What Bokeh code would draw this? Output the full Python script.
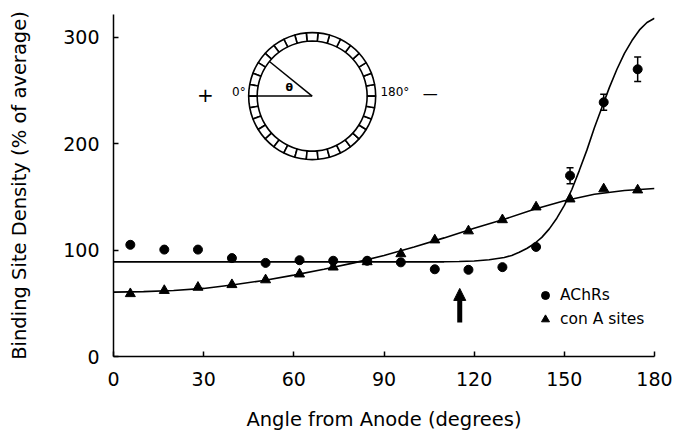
import math
from bokeh.plotting import figure
from bokeh.models import (ColumnDataSource, Whisker, TeeHead, Arrow, NormalHead,
                          Label, Legend, LegendItem, Range1d)
from bokeh.embed import file_html
from bokeh.resources import INLINE

# ---------------- data ----------------
angle_bins = [5.6, 16.9, 28.1, 39.4, 50.6, 61.9, 73.1, 84.4,
              95.6, 106.9, 118.1, 129.4, 140.6, 151.9, 163.1, 174.4]
achr_density = [105, 100.5, 100.5, 92.5, 88, 90.5, 90, 90,
                88.5, 82, 81.5, 84, 103, 170, 239, 270]
achr_error = [0, 0, 0, 0, 0, 0, 0, 0, 0, 0, 0, 0, 0, 7.5, 7.5, 11.5]
cona_density = [59, 62, 65, 67.5, 72, 77.5, 84, 89,
                96.5, 109.5, 118, 128.5, 140.5, 148, 157.5, 156.5]

achr_fit_angle = [0, 20, 40, 60, 80, 100, 110, 115, 120, 125, 130, 132.5,
                  135, 137.5, 140, 142.5, 145, 147.5, 150, 152.5, 155, 157.5,
                  160, 162.5, 165, 167.5, 170, 172.5, 175, 177.5, 180]
achr_fit_density = [89, 89, 89, 89, 89, 89, 89, 89.3, 89.8, 91, 93, 95,
                    98, 101.5, 106, 112, 120, 130, 142, 157, 175, 194,
                    215, 234, 253, 270, 285, 297, 307, 314, 318]
cona_fit_angle = [0, 10, 20, 30, 40, 50, 60, 70, 80, 90, 100, 110, 120,
                  130, 140, 150, 160, 170, 180]
cona_fit_density = [60.5, 61, 62, 64, 67.5, 71.5, 76.5, 82, 88, 95, 103,
                    111.5, 120.5, 129, 138.5, 146.5, 152.5, 156, 158]

x_ticks = [0, 30, 60, 90, 120, 150, 180]
y_ticks = [0, 100, 200, 300]

FONT = "DejaVu Sans"

p = figure(width=674, height=435,
           x_range=Range1d(0, 180), y_range=Range1d(0, 321.5),
           output_backend="svg", toolbar_location=None,
           min_border_left=113, min_border_right=20,
           min_border_top=14, min_border_bottom=79)
p.outline_line_color = None
p.grid.visible = False
p.background_fill_color = "white"

for ax in (p.xaxis[0], p.yaxis[0]):
    ax.axis_line_width = 1.5
    ax.axis_line_color = "black"
    ax.major_tick_in = 5
    ax.major_tick_out = 0
    ax.major_tick_line_width = 1.5
    ax.major_tick_line_color = "black"
    ax.minor_tick_line_color = None
    ax.major_label_text_font = FONT
    ax.major_label_text_font_size = "19px"
    ax.major_label_text_color = "black"
    ax.axis_label_text_font = FONT
    ax.axis_label_text_font_size = "19.5px"
    ax.axis_label_text_font_style = "normal"
    ax.axis_label_text_color = "black"

p.xaxis.ticker = x_ticks
p.yaxis.ticker = y_ticks
p.xaxis.axis_label = "Angle from Anode (degrees)"
p.yaxis.axis_label = "Binding Site Density (% of average)"
p.xaxis.major_label_standoff = 15
p.yaxis.major_label_standoff = 14
p.xaxis.axis_label_standoff = 19
p.yaxis.axis_label_standoff = 29

# fitted curves
p.line(achr_fit_angle, achr_fit_density, line_color="black", line_width=1.6)
p.line(cona_fit_angle, cona_fit_density, line_color="black", line_width=1.6)

# error bars
err_x = [a for a, e in zip(angle_bins, achr_error) if e > 0]
err_up = [d + e for d, e in zip(achr_density, achr_error) if e > 0]
err_lo = [d - e for d, e in zip(achr_density, achr_error) if e > 0]
err_src = ColumnDataSource(dict(x=err_x, upper=err_up, lower=err_lo))
p.add_layout(Whisker(source=err_src, base="x", upper="upper", lower="lower",
                     dimension="height", line_width=1.5, line_color="black",
                     upper_head=TeeHead(size=7, line_width=1.5),
                     lower_head=TeeHead(size=7, line_width=1.5)))

r_achr = p.scatter(angle_bins, achr_density, marker="circle", size=9,
                   fill_color="black", line_color="black")
r_cona = p.scatter(angle_bins, cona_density, marker="triangle", size=10,
                   fill_color="black", line_color="black")

legend = Legend(items=[LegendItem(label="AChRs", renderers=[r_achr]),
                       LegendItem(label="con A sites", renderers=[r_cona])],
                location=(422, 26))
legend.label_text_font = FONT
legend.label_text_font_size = "15.5px"
legend.label_text_color = "black"
legend.glyph_width = 20
legend.glyph_height = 22
legend.label_height = 22
legend.spacing = 2
legend.padding = 0
legend.margin = 0
legend.label_standoff = 5
legend.border_line_color = None
legend.background_fill_alpha = 0
p.add_layout(legend, "center")

# arrow marking
p.add_layout(Arrow(end=NormalHead(size=12, fill_color="black", line_color="black"),
                   x_start=115.2, y_start=32, x_end=115.2, y_end=64,
                   line_width=5, line_color="black"))

# inset: cell cross-section
cx, cy = 66.1, 244.8
n_seg = 34
starts = [2 * math.pi * i / n_seg for i in range(n_seg)]
ends = [2 * math.pi * (i + 1) / n_seg for i in range(n_seg)]
p.annular_wedge(x=[cx] * n_seg, y=[cy] * n_seg,
                inner_radius=55, outer_radius=63.5,
                inner_radius_units="screen", outer_radius_units="screen",
                start_angle=starts, end_angle=ends,
                fill_color="white", line_color="black", line_width=1.6)
p.ray(x=[cx, cx], y=[cy, cy], length=55, length_units="screen",
      angle=[math.pi, math.radians(141)], line_color="black", line_width=1.5)

for txt, x, y, size, align in [("θ", 58.5, 252.5, "11px", "center"),
                               ("0°", 44.0, 248.5, "12px", "right"),
                               ("180°", 88.8, 248.5, "12px", "left"),
                               ("+", 30.6, 245.4, "20px", "center"),
                               ("—", 105.4, 246.4, "15px", "center")]:
    p.add_layout(Label(x=x, y=y, text=txt, text_font=FONT, text_font_size=size,
                       text_align=align, text_baseline="middle",
                       text_color="black",
                       text_font_style="bold" if txt == "θ" else "normal"))

open("out.html", "w").write(file_html(p, INLINE))
